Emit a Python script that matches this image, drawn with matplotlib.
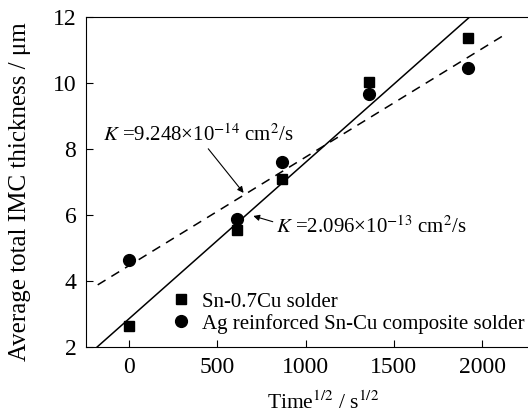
import matplotlib
matplotlib.use('Agg')
import matplotlib.pyplot as plt
import numpy as np

plt.rcParams['font.family'] = ['Liberation Serif', 'DejaVu Serif']
plt.rcParams['mathtext.fontset'] = 'stix'

# data
time_sqrt = [0, 612, 868, 1360, 1919]
sn_cu = [2.65, 5.55, 7.1, 10.02, 11.35]
ag_composite = [4.65, 5.87, 7.6, 9.67, 10.45]

# fitted lines (slope, intercept, x range)
fit_sn_cu = (0.004737, 2.862, [-182, 1929])
fit_ag = (0.003287, 4.47, [-179, 2118])

fig = plt.figure(figsize=(5.28, 4.16), dpi=100)
ax = fig.add_axes([0.163, 0.166, 0.837, 0.793])

ax.plot(time_sqrt, sn_cu, 's', color='black', markersize=7.5, label='Sn-0.7Cu solder')
ax.plot(time_sqrt, ag_composite, 'o', color='black', markersize=8.5,
        label='Ag reinforced Sn-Cu composite solder')

# fit lines
for (k, b, xr), ls in [(fit_sn_cu, '-'), (fit_ag, (0, (6, 4.5)))]:
    xs = np.array(xr)
    ax.plot(xs, k * xs + b, color='black', linestyle=ls, linewidth=1.1)

ax.set_xlim(-245, 2260)
ax.set_ylim(2, 12)
ax.set_xticks([0, 500, 1000, 1500, 2000])
ax.set_yticks([2, 4, 6, 8, 10, 12])
ax.tick_params(direction='in', length=5, labelsize=17, pad=7)
ax.spines['right'].set_visible(False)

ax.set_xlabel('Time$^{1/2}$ / s$^{1/2}$', fontsize=15.5)
ax.set_ylabel('Average total IMC thickness / μm', fontsize=18)
ax.xaxis.set_label_coords(0.536, -0.135)
ax.yaxis.set_label_coords(-0.125, 0.47)

# annotations
ax.annotate('$K$ =9.248×10$^{-14}$ cm$^2$/s', xy=(648, 6.67), xytext=(-149, 8.42),
            fontsize=15, va='center',
            arrowprops=dict(arrowstyle='-|>', color='black', lw=0.8,
                            shrinkA=0, shrinkB=0, mutation_scale=9,
                            relpos=(0.54, 0.0)))
ax.annotate('$K$ =2.096×10$^{-13}$ cm$^2$/s', xy=(703, 5.97), xytext=(829, 5.64),
            fontsize=15, va='center',
            arrowprops=dict(arrowstyle='-|>', color='black', lw=0.8,
                            shrinkA=0, shrinkB=0, mutation_scale=9,
                            relpos=(0.0, 0.7)))

ax.legend(loc='lower left', bbox_to_anchor=(0.201, 0.04), frameon=False,
          fontsize=15, handlelength=0.6, handletextpad=0.7, labelspacing=0.1,
          borderpad=0, borderaxespad=0)

fig.savefig('out.png', dpi=100)
